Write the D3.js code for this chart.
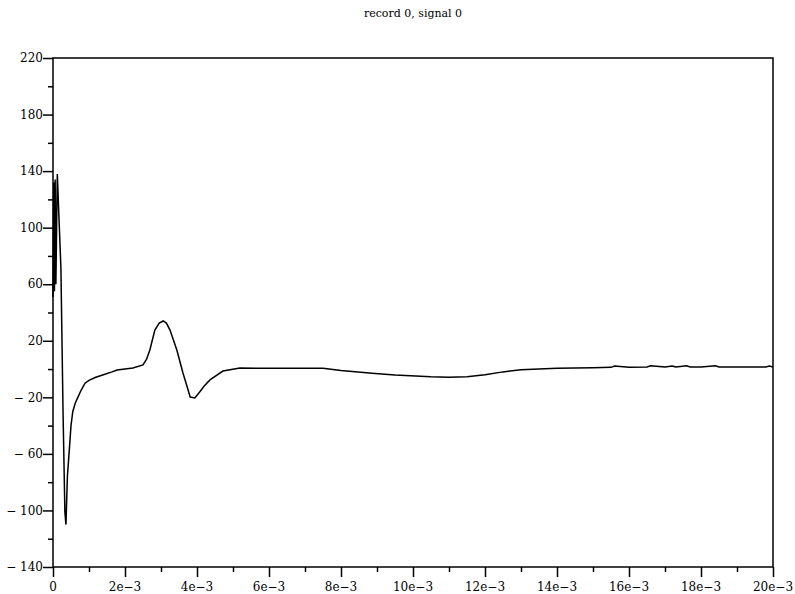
<!DOCTYPE html>
<html>
<head>
<meta charset="utf-8">
<script src="https://cdn.jsdelivr.net/npm/d3@7"></script>
<style>
  body { margin: 0; background: #fff; }
  svg { display: block; }
</style>
</head>
<body>
<div id="chart"></div>
<script>
// time in milliseconds (axis is labelled in e-3 s)
const timeMs = [0.00, 0.02, 0.04, 0.06, 0.08, 0.12, 0.16, 0.22, 0.28, 0.33, 0.36, 0.40, 0.47, 0.50, 0.55,
  0.62, 0.69, 0.78, 0.89, 1.00, 1.17, 1.40, 1.64, 1.78, 2.22, 2.50, 2.60, 2.69, 2.83, 2.95, 3.06, 3.15, 3.25,
  3.44, 3.61, 3.72, 3.81, 3.94, 4.08, 4.20, 4.36, 4.72,
  5.19, 6.00, 7.00, 7.50, 8.00, 8.86, 9.50, 10.50, 11.00, 11.50, 12.00, 12.50, 13.00, 14.00, 15.00, 15.50,
  15.60, 16.00, 16.50, 16.60, 17.00, 17.20, 17.30, 17.60, 17.70, 18.00, 18.40, 18.50, 19.00, 19.80, 19.90, 20.00];
const signal = [51, 132, 55, 134, 60, 138, 111, 71, -32, -101, -110, -76, -51, -40, -30,
  -24, -20, -15, -10, -8, -6, -4, -2, -0.7, 0.7, 2.9, 7, 13.5, 27.6, 32.5, 34, 32.5, 27.6,
  13.5, -2.8, -12, -19.8, -20.5, -16, -12, -7.7, -1.4,
  0.7, 0.6, 0.5, 0.5, -1.1, -3, -4.2, -5.5, -5.8, -5.5, -4, -2, -0.5, 0.5, 1.0, 1.2,
  2.2, 1.3, 1.4, 2.3, 1.4, 2.2, 1.4, 2.3, 1.4, 1.4, 2.3, 1.4, 1.4, 1.4, 2.2, 1.4];

const yTicks = [-140, -100, -60, -20, 20, 60, 100, 140, 180, 220];
const xTicks = [0, 2, 4, 6, 8, 10, 12, 14, 16, 18, 20];
const xTickLabels = ['0', '2e−3', '4e−3', '6e−3', '8e−3', '10e−3', '12e−3', '14e−3', '16e−3', '18e−3', '20e−3'];
const title = 'record 0, signal 0';

const width = 795, height = 594;
const margin = { top: 58, right: 22, bottom: 27, left: 53 };

const svg = d3.select('#chart').append('svg')
  .attr('width', width)
  .attr('height', height);

const x = d3.scaleLinear().domain([0, 20]).range([margin.left, width - margin.right]);
const y = d3.scaleLinear().domain([-140, 220]).range([height - margin.bottom, margin.top]);

const font = 'DejaVu Serif, Liberation Serif, serif';

// frame
svg.append('rect')
  .attr('x', x(0)).attr('y', y(220))
  .attr('width', x(20) - x(0)).attr('height', y(-140) - y(220))
  .attr('fill', 'none').attr('stroke', '#000').attr('stroke-width', 1.5);

// y axis
const yAxis = svg.append('g')
  .attr('transform', `translate(${x(0)},0)`)
  .call(d3.axisLeft(y).tickValues(d3.range(-140, 221, 20)).tickSize(5).tickFormat(''));
yAxis.selectAll('.tick line')
  .attr('x2', d => yTicks.includes(d) ? -10 : -5);
yAxis.select('.domain').remove();
yAxis.selectAll('line').attr('stroke', '#000').attr('stroke-width', 1.5);

svg.append('g').selectAll('text')
  .data(yTicks)
  .enter().append('text')
  .attr('x', x(0) - 10)
  .attr('y', d => y(d))
  .attr('dy', '0.35em')
  .attr('text-anchor', 'end')
  .attr('font-family', font)
  .attr('font-size', 12)
  .text(d => d < 0 ? '− ' + Math.abs(d) : d);

// x axis
const xAxis = svg.append('g')
  .attr('transform', `translate(0,${y(-140)})`)
  .call(d3.axisBottom(x).tickValues(d3.range(0, 21, 1)).tickSize(5).tickFormat(''));
xAxis.selectAll('.tick line')
  .attr('y2', d => d % 2 === 0 ? 10 : 5);
xAxis.select('.domain').remove();
xAxis.selectAll('line').attr('stroke', '#000').attr('stroke-width', 1.5);

svg.append('g').selectAll('text')
  .data(xTicks)
  .enter().append('text')
  .attr('x', d => x(d))
  .attr('y', y(-140) + 24)
  .attr('text-anchor', 'middle')
  .attr('font-family', font)
  .attr('font-size', 12)
  .text((d, i) => xTickLabels[i]);

// title
svg.append('text')
  .attr('x', (x(0) + x(20)) / 2)
  .attr('y', 17)
  .attr('text-anchor', 'middle')
  .attr('font-family', font)
  .attr('font-size', 11)
  .text(title);

// signal
const line = d3.line()
  .x((d, i) => x(timeMs[i]))
  .y(d => y(d));

svg.append('path')
  .datum(signal)
  .attr('fill', 'none')
  .attr('stroke', '#000')
  .attr('stroke-width', 1.5)
  .attr('d', line);
</script>
</body>
</html>
